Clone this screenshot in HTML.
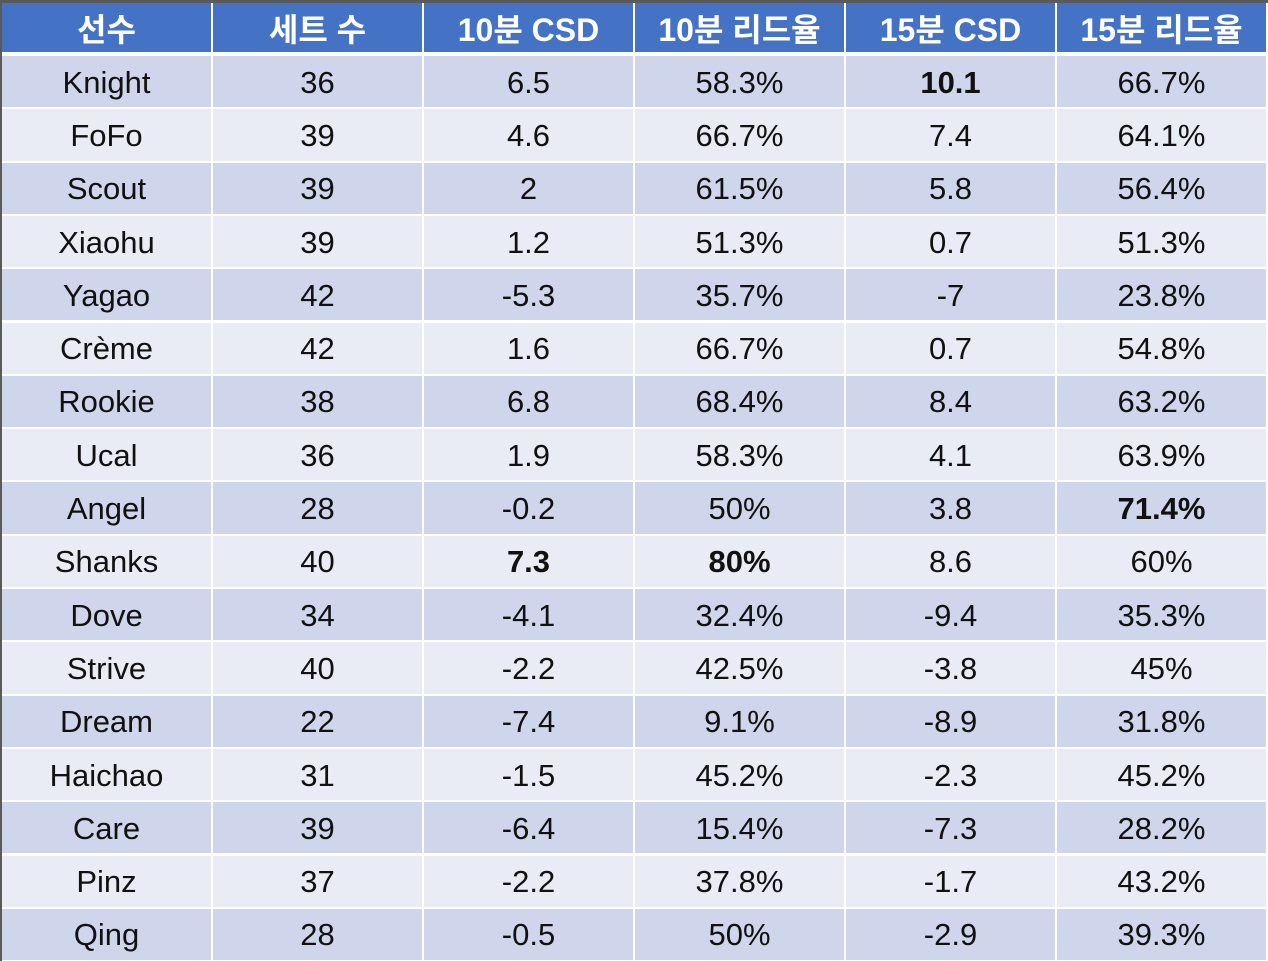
<!DOCTYPE html>
<html><head><meta charset="utf-8"><style>
body{margin:0;width:1268px;height:961px;overflow:hidden;background:#5a5a5a;font-family:"Liberation Sans","Noto Sans CJK KR",sans-serif;}
.c{position:absolute;display:flex;align-items:center;justify-content:center;font-size:31px;color:#111;box-sizing:border-box;padding-top:2px;}
.h{background:#4472c4;color:#fff;font-weight:bold;font-size:32px;padding-top:0;}
.o{background:#cfd5ea}.e{background:#e9ebf5}
b{font-weight:bold}
</style></head><body>
<div id="t"></div>
<script>
const hd=["선수","세트 수","10분 CSD","10분 리드율","15분 CSD","15분 리드율"];
const rows=[["Knight","36","6.5","58.3%","<b>10.1</b>","66.7%"],["FoFo","39","4.6","66.7%","7.4","64.1%"],["Scout","39","2","61.5%","5.8","56.4%"],["Xiaohu","39","1.2","51.3%","0.7","51.3%"],["Yagao","42","-5.3","35.7%","-7","23.8%"],["Crème","42","1.6","66.7%","0.7","54.8%"],["Rookie","38","6.8","68.4%","8.4","63.2%"],["Ucal","36","1.9","58.3%","4.1","63.9%"],["Angel","28","-0.2","50%","3.8","<b>71.4%</b>"],["Shanks","40","<b>7.3</b>","<b>80%</b>","8.6","60%"],["Dove","34","-4.1","32.4%","-9.4","35.3%"],["Strive","40","-2.2","42.5%","-3.8","45%"],["Dream","22","-7.4","9.1%","-8.9","31.8%"],["Haichao","31","-1.5","45.2%","-2.3","45.2%"],["Care","39","-6.4","15.4%","-7.3","28.2%"],["Pinz","37","-2.2","37.8%","-1.7","43.2%"],["Qing","28","-0.5","50%","-2.9","39.3%"]];
let h="";const X=[2,213,424,635,846,1057,1268];
h+='<div style="position:absolute;left:2px;top:3px;width:1266px;height:958px;background:#fff"></div>';
for(let j=0;j<6;j++){h+=`<div class="c h" style="left:${X[j]}px;top:3px;width:${X[j+1]-X[j]-2}px;height:49px">${hd[j]}</div>`;}
rows.forEach((r,i)=>{const y=56+i*53.3,y2=56+(i+1)*53.3;
for(let j=0;j<6;j++){h+=`<div class="c ${i%2?'e':'o'}" style="left:${X[j]}px;top:${y}px;width:${X[j+1]-X[j]-2}px;height:${y2-y-2}px">${r[j]}</div>`;}});
document.getElementById("t").innerHTML=h;
</script>
</body></html>
